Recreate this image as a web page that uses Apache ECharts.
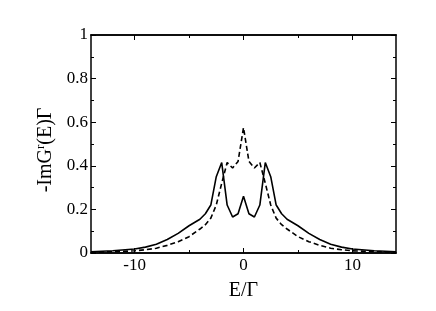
<!DOCTYPE html>
<html><head><meta charset="utf-8">
<script src="https://cdn.jsdelivr.net/npm/echarts@6/dist/echarts.min.js"></script>
<style>html,body{margin:0;padding:0;background:#fff}#c{width:436px;height:311px}</style>
</head><body><div id="c"></div>
<script>
var energies = [-14,-12,-10,-9,-8,-7,-6,-5,-4,-3.5,-3,-2.5,-2,-1.5,-1,-0.5,0,0.5,1,1.5,2,2.5,3,3.5,4,5,6,7,8,9,10,12,14];
var solidValues = [0.006,0.01,0.018,0.027,0.04,0.062,0.09,0.125,0.155,0.18,0.22,0.35,0.415,0.22,0.165,0.18,0.26,0.18,0.165,0.22,0.415,0.35,0.22,0.18,0.155,0.125,0.09,0.062,0.04,0.027,0.018,0.01,0.006];
var dashedValues = [0.003,0.006,0.01,0.015,0.022,0.035,0.052,0.075,0.11,0.13,0.16,0.22,0.32,0.415,0.39,0.42,0.575,0.42,0.39,0.415,0.32,0.22,0.16,0.13,0.11,0.075,0.052,0.035,0.022,0.015,0.01,0.006,0.003];
var xMajorTicks = [-10,0,10];
var xMinorTicks = [-5,5];

function pairs(xs, ys){ return xs.map(function(x,i){return [x, ys[i]];}); }
var font = 'Liberation Serif';
var lineStyle = {color:'#000', width:1.5};
function xAx(pos, showLabels, ticks, len, name){
  return {type:'value', min:-14, max:14, position:pos, gridIndex:0,
    axisLine:{show:true, onZero:false, lineStyle:lineStyle},
    axisTick:{show:true, inside:true, length:len, customValues:ticks, lineStyle:{color:'#000',width:1}},
    axisLabel:{show:showLabels, customValues:xMajorTicks, color:'#000', fontFamily:font, fontSize:17, margin:4},
    splitLine:{show:false},
    name: name||'', nameLocation:'middle', nameGap:28,
    nameTextStyle:{color:'#000', fontFamily:font, fontSize:20}};
}
var chart = echarts.init(document.getElementById('c'), null, {renderer:'canvas'});
chart.setOption({
  animation:false,
  grid:{left:91, right:40, top:35, bottom:58},
  xAxis:[
    xAx('bottom', true, xMajorTicks, 5, 'E/Γ'),
    xAx('bottom', false, xMinorTicks, 3),
    xAx('top', false, xMajorTicks, 5),
    xAx('top', false, xMinorTicks, 3)
  ],
  yAxis:[
    {type:'value', min:0, max:1, interval:0.2, position:'left',
     axisLine:{show:true, onZero:false, lineStyle:lineStyle},
     axisTick:{show:true, inside:true, length:5, lineStyle:{color:'#000',width:1}},
     minorTick:{show:true, splitNumber:2, length:3, lineStyle:{color:'#000',width:1}},
     axisLabel:{color:'#000', fontFamily:font, fontSize:17, margin:3},
     splitLine:{show:false}, minorSplitLine:{show:false},
     name:'-ImG{sup|r}(E)Γ', nameLocation:'middle', nameGap:34, nameRotate:90,
     nameTextStyle:{color:'#000', fontFamily:font, fontSize:20, padding:[0,12,0,0],
       rich:{sup:{fontFamily:font, fontSize:13, verticalAlign:'top', padding:[0,0,10,0], color:'#000'}}}},
    {type:'value', min:0, max:1, interval:0.2, position:'right',
     axisLine:{show:true, onZero:false, lineStyle:lineStyle},
     axisTick:{show:true, inside:true, length:5, lineStyle:{color:'#000',width:1}},
     minorTick:{show:true, splitNumber:2, length:3, lineStyle:{color:'#000',width:1}},
     axisLabel:{show:false}, splitLine:{show:false}}
  ],
  series:[
    {type:'line', xAxisIndex:0, yAxisIndex:0, data:pairs(energies, solidValues), showSymbol:false,
     lineStyle:{color:'#000', width:1.6, type:'solid'}},
    {type:'line', xAxisIndex:0, yAxisIndex:0, data:pairs(energies, dashedValues), showSymbol:false,
     lineStyle:{color:'#000', width:1.6, type:[5,3]}}
  ]
});
</script></body></html>
